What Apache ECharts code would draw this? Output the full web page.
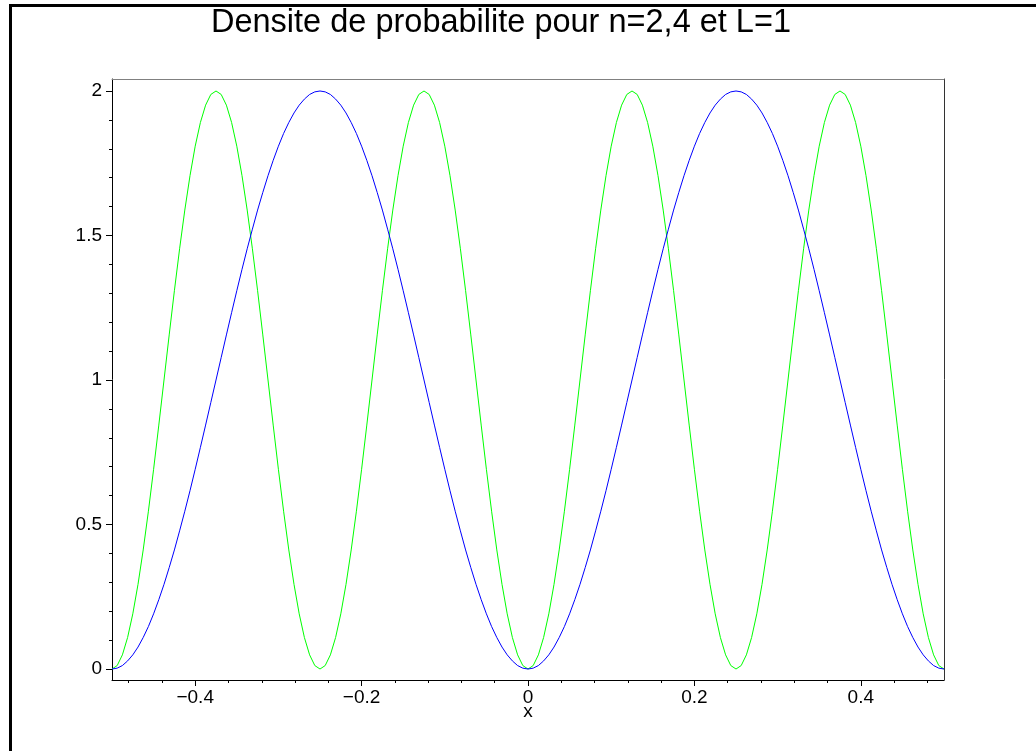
<!DOCTYPE html>
<html>
<head>
<meta charset="utf-8">
<title>Densite de probabilite</title>
<script src="https://cdn.jsdelivr.net/npm/echarts@6/dist/echarts.min.js"></script>
<style>
  html, body { margin: 0; padding: 0; background: #fff; }
  #chart { width: 1036px; height: 751px; }
</style>
</head>
<body>
<div id="chart"></div>
<script>
// x positions (step 0.00625)
var xs = [
  -0.5, -0.49375, -0.4875, -0.48125, -0.475, -0.46875, -0.4625, -0.45625, -0.45, -0.44375,
  -0.4375, -0.43125, -0.425, -0.41875, -0.4125, -0.40625, -0.4, -0.39375, -0.3875, -0.38125,
  -0.375, -0.36875, -0.3625, -0.35625, -0.35, -0.34375, -0.3375, -0.33125, -0.325, -0.31875,
  -0.3125, -0.30625, -0.3, -0.29375, -0.2875, -0.28125, -0.275, -0.26875, -0.2625, -0.25625,
  -0.25, -0.24375, -0.2375, -0.23125, -0.225, -0.21875, -0.2125, -0.20625, -0.2, -0.19375,
  -0.1875, -0.18125, -0.175, -0.16875, -0.1625, -0.15625, -0.15, -0.14375, -0.1375, -0.13125,
  -0.125, -0.11875, -0.1125, -0.10625, -0.1, -0.09375, -0.0875, -0.08125, -0.075, -0.06875,
  -0.0625, -0.05625, -0.05, -0.04375, -0.0375, -0.03125, -0.025, -0.01875, -0.0125, -0.00625,
  0,
  0.00625, 0.0125, 0.01875, 0.025, 0.03125, 0.0375, 0.04375, 0.05, 0.05625, 0.0625,
  0.06875, 0.075, 0.08125, 0.0875, 0.09375, 0.1, 0.10625, 0.1125, 0.11875, 0.125,
  0.13125, 0.1375, 0.14375, 0.15, 0.15625, 0.1625, 0.16875, 0.175, 0.18125, 0.1875,
  0.19375, 0.2, 0.20625, 0.2125, 0.21875, 0.225, 0.23125, 0.2375, 0.24375, 0.25,
  0.25625, 0.2625, 0.26875, 0.275, 0.28125, 0.2875, 0.29375, 0.3, 0.30625, 0.3125,
  0.31875, 0.325, 0.33125, 0.3375, 0.34375, 0.35, 0.35625, 0.3625, 0.36875, 0.375,
  0.38125, 0.3875, 0.39375, 0.4, 0.40625, 0.4125, 0.41875, 0.425, 0.43125, 0.4375,
  0.44375, 0.45, 0.45625, 0.4625, 0.46875, 0.475, 0.48125, 0.4875, 0.49375, 0.5
];

// n = 2 (blue)
var densN2 = [
  0, 0.003, 0.012, 0.028, 0.049, 0.076, 0.109, 0.147, 0.191, 0.240,
  0.293, 0.351, 0.412, 0.478, 0.546, 0.617, 0.691, 0.767, 0.844, 0.922,
  1, 1.078, 1.156, 1.233, 1.309, 1.383, 1.454, 1.522, 1.588, 1.649,
  1.707, 1.760, 1.809, 1.853, 1.891, 1.924, 1.951, 1.972, 1.988, 1.997,
  2, 1.997, 1.988, 1.972, 1.951, 1.924, 1.891, 1.853, 1.809, 1.760,
  1.707, 1.649, 1.588, 1.522, 1.454, 1.383, 1.309, 1.233, 1.156, 1.078,
  1, 0.922, 0.844, 0.767, 0.691, 0.617, 0.546, 0.478, 0.412, 0.351,
  0.293, 0.240, 0.191, 0.147, 0.109, 0.076, 0.049, 0.028, 0.012, 0.003,
  0,
  0.003, 0.012, 0.028, 0.049, 0.076, 0.109, 0.147, 0.191, 0.240, 0.293,
  0.351, 0.412, 0.478, 0.546, 0.617, 0.691, 0.767, 0.844, 0.922, 1,
  1.078, 1.156, 1.233, 1.309, 1.383, 1.454, 1.522, 1.588, 1.649, 1.707,
  1.760, 1.809, 1.853, 1.891, 1.924, 1.951, 1.972, 1.988, 1.997, 2,
  1.997, 1.988, 1.972, 1.951, 1.924, 1.891, 1.853, 1.809, 1.760, 1.707,
  1.649, 1.588, 1.522, 1.454, 1.383, 1.309, 1.233, 1.156, 1.078, 1,
  0.922, 0.844, 0.767, 0.691, 0.617, 0.546, 0.478, 0.412, 0.351, 0.293,
  0.240, 0.191, 0.147, 0.109, 0.076, 0.049, 0.028, 0.012, 0.003, 0
];

// n = 4 (green)
var densN4 = [
  0, 0.012, 0.049, 0.109, 0.191, 0.293, 0.412, 0.546, 0.691, 0.844,
  1, 1.156, 1.309, 1.454, 1.588, 1.707, 1.809, 1.891, 1.951, 1.988,
  2, 1.988, 1.951, 1.891, 1.809, 1.707, 1.588, 1.454, 1.309, 1.156,
  1, 0.844, 0.691, 0.546, 0.412, 0.293, 0.191, 0.109, 0.049, 0.012,
  0, 0.012, 0.049, 0.109, 0.191, 0.293, 0.412, 0.546, 0.691, 0.844,
  1, 1.156, 1.309, 1.454, 1.588, 1.707, 1.809, 1.891, 1.951, 1.988,
  2, 1.988, 1.951, 1.891, 1.809, 1.707, 1.588, 1.454, 1.309, 1.156,
  1, 0.844, 0.691, 0.546, 0.412, 0.293, 0.191, 0.109, 0.049, 0.012,
  0,
  0.012, 0.049, 0.109, 0.191, 0.293, 0.412, 0.546, 0.691, 0.844, 1,
  1.156, 1.309, 1.454, 1.588, 1.707, 1.809, 1.891, 1.951, 1.988, 2,
  1.988, 1.951, 1.891, 1.809, 1.707, 1.588, 1.454, 1.309, 1.156, 1,
  0.844, 0.691, 0.546, 0.412, 0.293, 0.191, 0.109, 0.049, 0.012, 0,
  0.012, 0.049, 0.109, 0.191, 0.293, 0.412, 0.546, 0.691, 0.844, 1,
  1.156, 1.309, 1.454, 1.588, 1.707, 1.809, 1.891, 1.951, 1.988, 2,
  1.988, 1.951, 1.891, 1.809, 1.707, 1.588, 1.454, 1.309, 1.156, 1,
  0.844, 0.691, 0.546, 0.412, 0.293, 0.191, 0.109, 0.049, 0.012, 0
];

// tick positions
var xMajorTicks = [-0.4, -0.2, 0, 0.2, 0.4];
var xMinorTicks = [-0.48, -0.44, -0.36, -0.32, -0.28, -0.24, -0.16, -0.12, -0.08, -0.04,
  0.04, 0.08, 0.12, 0.16, 0.24, 0.28, 0.32, 0.36, 0.44, 0.48];
var yMajorTicks = [0, 0.5, 1, 1.5, 2];
var yMinorTicks = [0.1, 0.2, 0.3, 0.4, 0.6, 0.7, 0.8, 0.9, 1.1, 1.2, 1.3, 1.4,
  1.6, 1.7, 1.8, 1.9];

var FONT = 'Liberation Sans, Arial, Helvetica, sans-serif';

function pairs(x, y) {
  return x.map(function (v, i) { return [v, y[i]]; });
}

var chart = echarts.init(document.getElementById('chart'), null, { renderer: 'canvas' });

var xRange = { min: -0.5, max: 0.5 };
var yRange = { min: -0.038, max: 2.0415 };

chart.setOption({
  animation: false,
  backgroundColor: '#fff',
  title: {
    text: 'Densite de probabilite pour n=2,4 et L=1',
    left: 501,
    top: 7,
    padding: 0,
    textAlign: 'center',
    textStyle: { fontFamily: FONT, fontSize: 32.5, fontWeight: 'normal', color: '#000' }
  },
  graphic: [{
    type: 'rect',
    shape: { x: 10.5, y: 5.5, width: 1100, height: 900 },
    style: { fill: 'none', stroke: '#000', lineWidth: 3 },
    silent: true
  }],
  grid: { left: 112, right: 92, top: 79, bottom: 71 },
  xAxis: [
    {
      type: 'value',
      min: xRange.min, max: xRange.max,
      position: 'bottom',
      name: 'x',
      nameLocation: 'middle',
      nameGap: 22,
      nameMoveOverlap: false,
      nameTextStyle: { fontFamily: FONT, fontSize: 19, color: '#000' },
      axisLine: { onZero: false, lineStyle: { color: '#000', width: 1 } },
      axisTick: { length: 6, customValues: xMajorTicks, lineStyle: { color: '#000' } },
      axisLabel: {
        customValues: xMajorTicks,
        margin: 8,
        fontFamily: FONT, fontSize: 19, color: '#000',
        formatter: function (v) { return String(v).replace('-', '\u2212'); }
      },
      splitLine: { show: false }
    },
    {
      type: 'value',
      min: xRange.min, max: xRange.max,
      position: 'bottom',
      axisLine: { show: false, onZero: false },
      axisTick: { length: 3, customValues: xMinorTicks, lineStyle: { color: '#000' } },
      axisLabel: { show: false },
      splitLine: { show: false }
    },
    {
      type: 'value',
      min: xRange.min, max: xRange.max,
      position: 'top',
      axisLine: { show: true, onZero: false, lineStyle: { color: '#808080', width: 1 } },
      axisTick: { show: false },
      axisLabel: { show: false },
      splitLine: { show: false }
    }
  ],
  yAxis: [
    {
      type: 'value',
      min: yRange.min, max: yRange.max,
      position: 'left',
      axisLine: { show: true, onZero: false, lineStyle: { color: '#000', width: 1 } },
      axisTick: { show: true, length: 6, customValues: yMajorTicks, lineStyle: { color: '#000' } },
      axisLabel: {
        customValues: yMajorTicks,
        margin: 10,
        fontFamily: FONT, fontSize: 19, color: '#000'
      },
      splitLine: { show: false }
    },
    {
      type: 'value',
      min: yRange.min, max: yRange.max,
      position: 'left',
      axisLine: { show: false, onZero: false },
      axisTick: { show: true, length: 3, customValues: yMinorTicks, lineStyle: { color: '#000' } },
      axisLabel: { show: false },
      splitLine: { show: false }
    },
    {
      type: 'value',
      min: yRange.min, max: yRange.max,
      position: 'right',
      axisLine: { show: true, onZero: false, lineStyle: { color: '#333', width: 1 } },
      axisTick: { show: false },
      axisLabel: { show: false },
      splitLine: { show: false }
    }
  ],
  series: [
    {
      name: 'n=4',
      type: 'line',
      data: pairs(xs, densN4),
      symbol: 'none',
      lineStyle: { color: '#00ff00', width: 1 }
    },
    {
      name: 'n=2',
      type: 'line',
      data: pairs(xs, densN2),
      symbol: 'none',
      lineStyle: { color: '#0000ff', width: 1 }
    }
  ]
});
</script>
</body>
</html>
